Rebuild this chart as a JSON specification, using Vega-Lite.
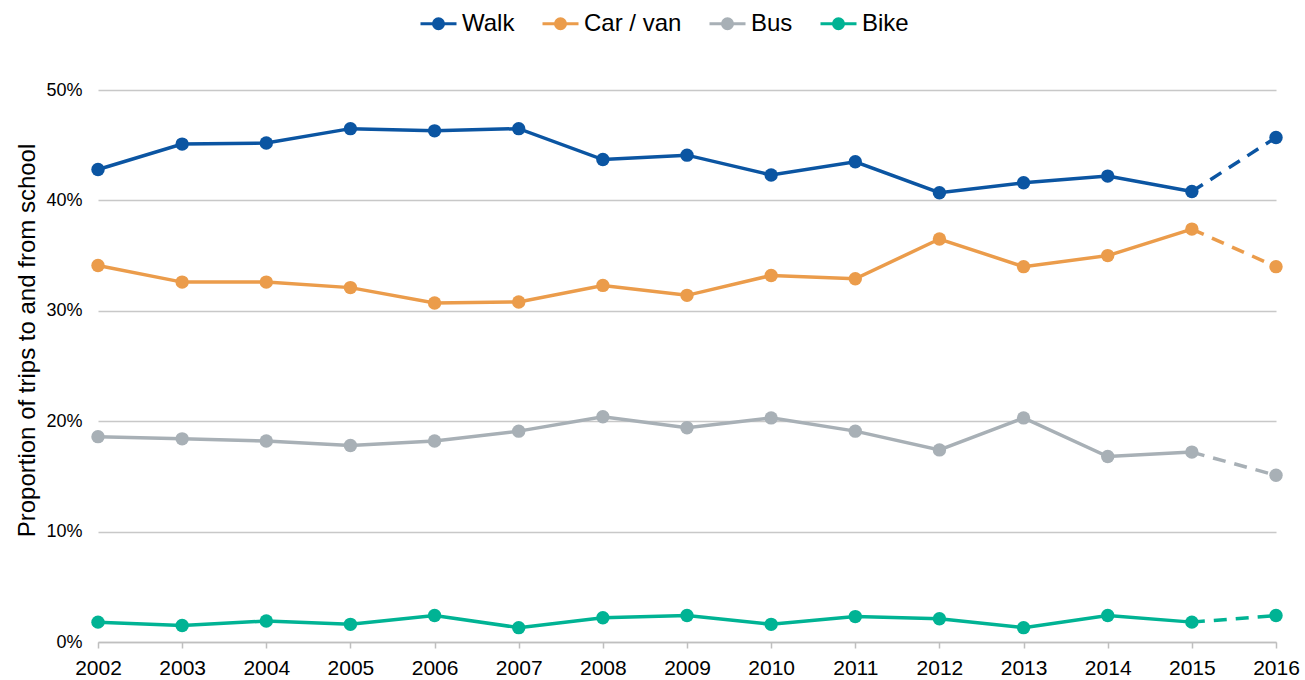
{
  "$schema": "https://vega.github.io/schema/vega-lite/v6.json",
  "width": 1178,
  "height": 552,
  "autosize": {"type": "none"},
  "padding": {"left": 98, "top": 90, "right": 29, "bottom": 38},
  "background": "white",
  "config": {
    "view": {"stroke": null},
    "font": "Liberation Sans"
  },
  "data": {
    "values": [
      {"year": 2002, "mode": "Walk", "value": 0.428},
      {"year": 2003, "mode": "Walk", "value": 0.451},
      {"year": 2004, "mode": "Walk", "value": 0.452},
      {"year": 2005, "mode": "Walk", "value": 0.465},
      {"year": 2006, "mode": "Walk", "value": 0.463},
      {"year": 2007, "mode": "Walk", "value": 0.465},
      {"year": 2008, "mode": "Walk", "value": 0.437},
      {"year": 2009, "mode": "Walk", "value": 0.441},
      {"year": 2010, "mode": "Walk", "value": 0.423},
      {"year": 2011, "mode": "Walk", "value": 0.435},
      {"year": 2012, "mode": "Walk", "value": 0.407},
      {"year": 2013, "mode": "Walk", "value": 0.416},
      {"year": 2014, "mode": "Walk", "value": 0.422},
      {"year": 2015, "mode": "Walk", "value": 0.408},
      {"year": 2016, "mode": "Walk", "value": 0.457},
      {"year": 2002, "mode": "Car / van", "value": 0.341},
      {"year": 2003, "mode": "Car / van", "value": 0.326},
      {"year": 2004, "mode": "Car / van", "value": 0.326},
      {"year": 2005, "mode": "Car / van", "value": 0.321},
      {"year": 2006, "mode": "Car / van", "value": 0.307},
      {"year": 2007, "mode": "Car / van", "value": 0.308},
      {"year": 2008, "mode": "Car / van", "value": 0.323},
      {"year": 2009, "mode": "Car / van", "value": 0.314},
      {"year": 2010, "mode": "Car / van", "value": 0.332},
      {"year": 2011, "mode": "Car / van", "value": 0.329},
      {"year": 2012, "mode": "Car / van", "value": 0.365},
      {"year": 2013, "mode": "Car / van", "value": 0.340},
      {"year": 2014, "mode": "Car / van", "value": 0.350},
      {"year": 2015, "mode": "Car / van", "value": 0.374},
      {"year": 2016, "mode": "Car / van", "value": 0.340},
      {"year": 2002, "mode": "Bus", "value": 0.186},
      {"year": 2003, "mode": "Bus", "value": 0.184},
      {"year": 2004, "mode": "Bus", "value": 0.182},
      {"year": 2005, "mode": "Bus", "value": 0.178},
      {"year": 2006, "mode": "Bus", "value": 0.182},
      {"year": 2007, "mode": "Bus", "value": 0.191},
      {"year": 2008, "mode": "Bus", "value": 0.204},
      {"year": 2009, "mode": "Bus", "value": 0.194},
      {"year": 2010, "mode": "Bus", "value": 0.203},
      {"year": 2011, "mode": "Bus", "value": 0.191},
      {"year": 2012, "mode": "Bus", "value": 0.174},
      {"year": 2013, "mode": "Bus", "value": 0.203},
      {"year": 2014, "mode": "Bus", "value": 0.168},
      {"year": 2015, "mode": "Bus", "value": 0.172},
      {"year": 2016, "mode": "Bus", "value": 0.151},
      {"year": 2002, "mode": "Bike", "value": 0.018},
      {"year": 2003, "mode": "Bike", "value": 0.015},
      {"year": 2004, "mode": "Bike", "value": 0.019},
      {"year": 2005, "mode": "Bike", "value": 0.016},
      {"year": 2006, "mode": "Bike", "value": 0.024},
      {"year": 2007, "mode": "Bike", "value": 0.013},
      {"year": 2008, "mode": "Bike", "value": 0.022},
      {"year": 2009, "mode": "Bike", "value": 0.024},
      {"year": 2010, "mode": "Bike", "value": 0.016},
      {"year": 2011, "mode": "Bike", "value": 0.023},
      {"year": 2012, "mode": "Bike", "value": 0.021},
      {"year": 2013, "mode": "Bike", "value": 0.013},
      {"year": 2014, "mode": "Bike", "value": 0.024},
      {"year": 2015, "mode": "Bike", "value": 0.018},
      {"year": 2016, "mode": "Bike", "value": 0.024}
    ]
  },
  "encoding": {
    "x": {
      "field": "year",
      "type": "ordinal",
      "scale": {"type": "point", "padding": 0},
      "axis": {
        "title": null,
        "labelAngle": 0,
        "labelFontSize": 21,
        "labelColor": "#000000",
        "labelPadding": 9,
        "domainColor": "#bfbfbf",
        "domainWidth": 1.5,
        "tickColor": "#bfbfbf",
        "tickSize": 6,
        "tickWidth": 1.5,
        "grid": false
      }
    },
    "y": {
      "field": "value",
      "type": "quantitative",
      "scale": {"domain": [0, 0.5], "nice": false},
      "axis": {
        "title": "Proportion of trips to and from school",
        "titleFontSize": 24,
        "titleFontWeight": "normal",
        "titleColor": "#000000",
        "titleAngle": -90,
        "titleAlign": "center",
        "titleBaseline": "middle",
        "titleX": -71,
        "titleY": 250,
        "format": ".0%",
        "values": [0, 0.1, 0.2, 0.3, 0.4, 0.5],
        "labelFontSize": 18,
        "labelColor": "#000000",
        "labelPadding": 16,
        "domain": false,
        "ticks": false,
        "grid": true,
        "gridColor": "#c8c8c8",
        "gridWidth": 1.5
      }
    },
    "color": {
      "field": "mode",
      "type": "nominal",
      "sort": ["Walk", "Car / van", "Bus", "Bike"],
      "scale": {
        "domain": ["Walk", "Car / van", "Bus", "Bike"],
        "range": ["#0b55a2", "#eb9c4b", "#a8b0b6", "#00b394"]
      },
      "legend": {
        "title": null,
        "orient": "none",
        "direction": "horizontal",
        "legendX": 321,
        "legendY": -86,
        "labelFontSize": 24,
        "labelColor": "#000000",
        "labelOffset": 4,
        "columnPadding": 21,
        "symbolType": "M-1,0H1M-0.28,0A0.28,0.28 0 1,0 0.28,0A0.28,0.28 0 1,0 -0.28,0Z",
        "symbolSize": 1296,
        "symbolStrokeWidth": 3,
        "symbolOpacity": 1,
        "encode": {
          "symbols": {
            "update": {
              "fill": {"scale": "color", "field": "value"},
              "stroke": {"scale": "color", "field": "value"},
              "strokeWidth": {"value": 3},
              "opacity": {"value": 1}
            }
          }
        }
      }
    }
  },
  "layer": [
    {
      "transform": [{"filter": "datum.year <= 2015"}],
      "mark": {"type": "line", "strokeWidth": 3.5}
    },
    {
      "transform": [{"filter": "datum.year >= 2015"}],
      "mark": {"type": "line", "strokeWidth": 3.5, "strokeDash": [13, 9]}
    },
    {
      "mark": {"type": "circle", "size": 180, "opacity": 1}
    }
  ]
}
